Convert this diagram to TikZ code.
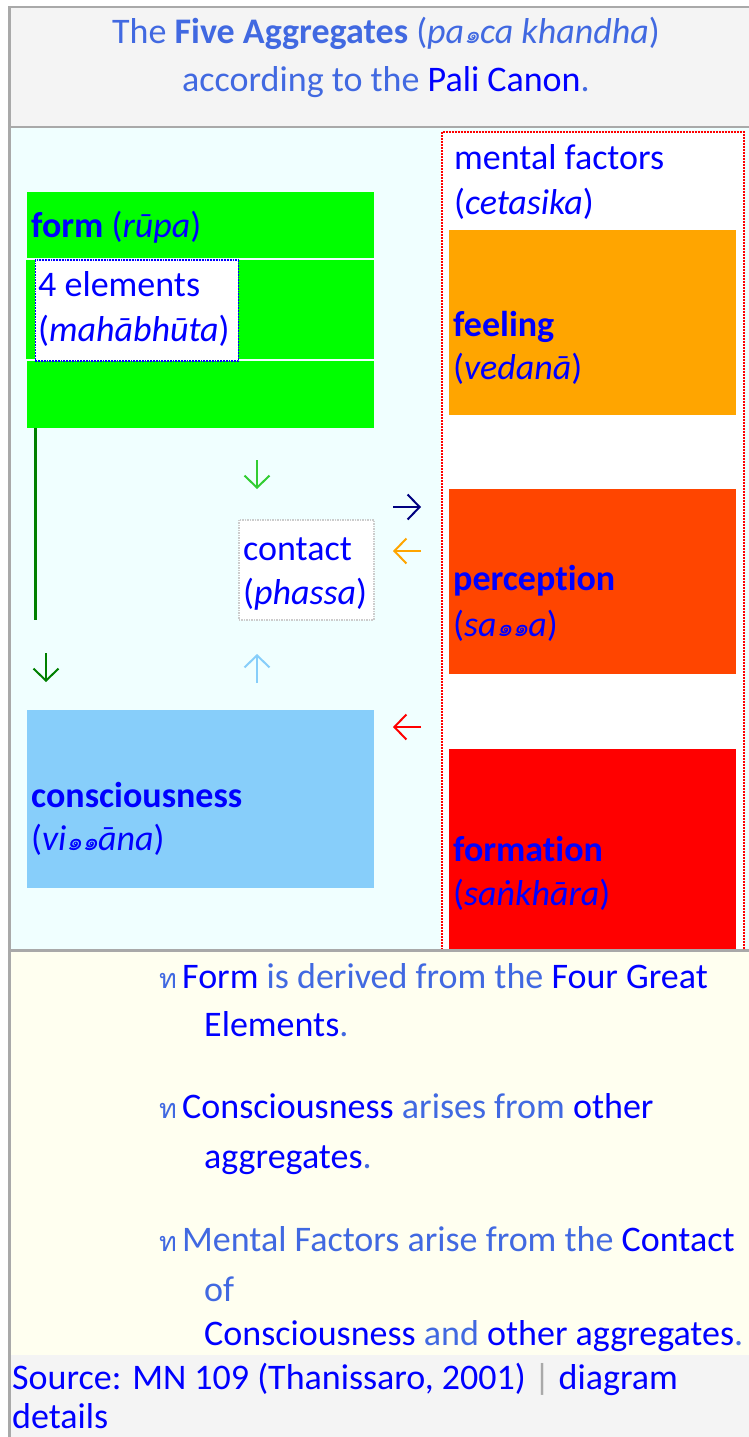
\documentclass[tikz,border=0pt]{standalone}
\usepackage{fontspec}
\setmainfont{Carlito}[Ligatures=NoCommon]
\newfontfamily\thai[Script=Thai]{Loma}
\usetikzlibrary{arrows.meta}
\definecolor{royal}{HTML}{4169E1}
\definecolor{lnk}{HTML}{0000FF}
\definecolor{hdrbg}{HTML}{F4F4F4}
\definecolor{brd}{HTML}{A9A9A9}
\definecolor{azurec}{HTML}{F0FFFF}
\definecolor{ivoryc}{HTML}{FFFFF0}
\definecolor{limec}{HTML}{00FF00}
\definecolor{dgreen}{HTML}{008000}
\definecolor{lgreen}{HTML}{32CD32}
\definecolor{navyc}{HTML}{000080}
\definecolor{orngc}{HTML}{FFA500}
\definecolor{oredc}{HTML}{FF4500}
\definecolor{redc}{HTML}{FF0000}
\definecolor{lskyc}{HTML}{87CEFA}
\definecolor{cgray}{HTML}{CCCCCC}
\newcommand{\thone}{{\thai\fontsize{25}{30}\selectfont ๑}}
\newcommand{\thbul}{{\thai\fontsize{27}{30}\selectfont ท}}
\tikzset{
  txt/.style={anchor=base west, inner sep=0pt, font=\fontsize{36}{45}\selectfont},
  ctxt/.style={anchor=base, inner sep=0pt, font=\fontsize{36}{45}\selectfont, text=royal},
  box/.style={anchor=north west, inner sep=0pt, draw=none},
  arr/.style={line width=2pt, -{Straight Barb[length=12pt,width=25pt]}},
}
\begin{document}
\begin{tikzpicture}[x=1pt,y=-1pt]
\useasboundingbox (0,0) rectangle (749,1437);
\fill[white] (0,0) rectangle (749,1437);
% panels
\fill[hdrbg] (9,6) rectangle (749,127);
\fill[azurec] (9,127) rectangle (749,950);
\fill[ivoryc] (9,950) rectangle (749,1355);
\fill[hdrbg] (9,1355) rectangle (749,1437);
% title
\node[ctxt] (t1) at (386,44) {The \textbf{Five Aggregates} (\textit{pa\thone ca khandha})};
\node[ctxt] (t2) at (386,92) {according to the \textcolor{lnk}{Pali Canon}.};
% form boxes
\node[box, fill=limec, minimum width=347pt, minimum height=66pt] (formA) at (27,192) {};
\node[box, fill=limec, minimum width=348pt, minimum height=99pt] (formB) at (26,260) {};
\node[box, fill=limec, minimum width=347pt, minimum height=67pt] (formC) at (27,361) {};
\node[box, fill=white, draw=lnk, densely dotted, line width=1.8pt, minimum width=203pt, minimum height=101pt] (elem) at (34.5,259) {};
\node[txt, text=lnk] (formT) at (31,237) {\textbf{form} (\textit{rūpa})};
\node[txt, text=lnk] (elemT1) at (38,296) {4 elements};
\node[txt, text=lnk] (elemT2) at (38,341) {(\textit{mahābhūta})};
% green line
\coordinate (g1) at (35.5,428);
\coordinate (g2) at (35.5,620);
\draw[dgreen, line width=3pt] (g1) -- (g2);
% contact
\node[box, fill=white, draw=cgray, densely dotted, line width=1.5pt, minimum width=135pt, minimum height=100pt] (contact) at (238,519) {};
\node[txt, text=lnk] (contT1) at (243,560) {contact};
\node[txt, text=lnk] (contT2) at (243,604) {(\textit{phassa})};
% consciousness
\node[box, fill=lskyc, minimum width=347pt, minimum height=178pt] (consc) at (27,710) {};
\node[txt, text=lnk] (conT1) at (31,807) {\textbf{consciousness}};
\node[txt, text=lnk] (conT2) at (31,850) {(\textit{vi\thone\thone āna})};
% right panel
\fill[white] (441,132) rectangle (744,950);
\node[box, fill=orngc, minimum width=287pt, minimum height=185pt] (feel) at (449,230) {};
\node[box, fill=oredc, minimum width=287pt, minimum height=185pt] (perc) at (449,489) {};
\node[box, fill=redc, minimum width=287pt, minimum height=201pt] (formn) at (449,749) {};
\draw[redc, densely dotted, line width=2pt] (441.5,950) -- (441.5,132) -- (744,132) -- (744,950);
\node[txt, text=lnk] (mf1) at (454,169) {mental factors};
\node[txt, text=lnk] (mf2) at (454,214) {(\textit{cetasika})};
\node[txt, text=lnk] (feelT1) at (453,336) {\textbf{feeling}};
\node[txt, text=lnk] (feelT2) at (453,379) {(\textit{vedanā})};
\node[txt, text=lnk] (percT1) at (453,590) {\textbf{perception}};
\node[txt, text=lnk] (percT2) at (453,636) {(\textit{sa\thone\thone a})};
\node[txt, text=lnk] (fmT1) at (453,861) {\textbf{formation}};
\node[txt, text=lnk] (fmT2) at (453,905) {(\textit{saṅkhāra})};
% arrows
\coordinate (a1s) at (257,460); \coordinate (a1e) at (257,489);
\coordinate (a2s) at (393,507); \coordinate (a2e) at (421,507);
\coordinate (a3s) at (421,551); \coordinate (a3e) at (393,551);
\coordinate (a4s) at (257,683); \coordinate (a4e) at (257,654);
\coordinate (a5s) at (421,727); \coordinate (a5e) at (393,727);
\coordinate (a6s) at (46,653);  \coordinate (a6e) at (46,682);
\draw[arr, lgreen] (a1s) -- (a1e);
\draw[arr, navyc] (a2s) -- (a2e);
\draw[arr, orngc] (a3s) -- (a3e);
\draw[arr, lskyc] (a4s) -- (a4e);
\draw[arr, redc] (a5s) -- (a5e);
\draw[arr, dgreen] (a6s) -- (a6e);
% borders
\fill[brd] (8,6) rectangle (749,8);
\fill[brd] (8,6) rectangle (11,1437);
\fill[brd] (9,126) rectangle (749,128);
\fill[brd] (9,949) rectangle (749,952);
% bottom notes
\node[txt, text=royal] (b1) at (159,988) {\thbul};
\node[txt, text=royal] (l1) at (182,988) {\textcolor{lnk}{Form} is derived from the \textcolor{lnk}{Four Great}};
\node[txt, text=royal] (l1b) at (204,1036) {\textcolor{lnk}{Elements}.};
\node[txt, text=royal] (b2) at (159,1118) {\thbul};
\node[txt, text=royal] (l2) at (182,1118) {\textcolor{lnk}{Consciousness} arises from \textcolor{lnk}{other}};
\node[txt, text=royal] (l2b) at (204,1168) {\textcolor{lnk}{aggregates}.};
\node[txt, text=royal] (b3) at (159,1251) {\thbul};
\node[txt, text=royal] (l3) at (182,1251) {Mental Factors arise from the \textcolor{lnk}{Contact}};
\node[txt, text=royal] (l3b) at (204,1301) {of};
\node[txt, text=royal] (l3c) at (204,1345) {\textcolor{lnk}{Consciousness} and \textcolor{lnk}{other aggregates}.};
% footer
\node[txt, text=lnk] (src1) at (12,1389) {Source: MN 109 (Thanissaro, 2001) \textcolor{brd}{|} diagram};
\node[txt, text=lnk] (src2) at (12,1428) {details};
\end{tikzpicture}
\end{document}
